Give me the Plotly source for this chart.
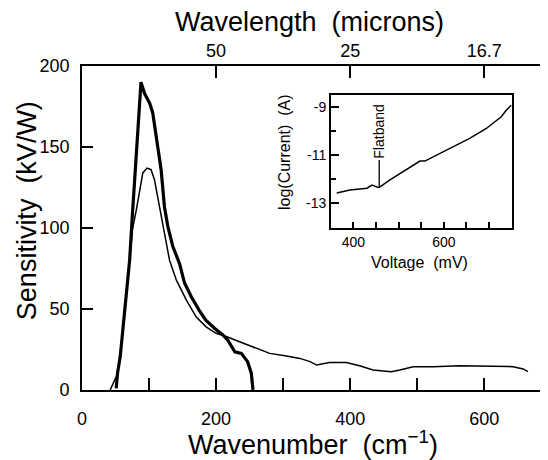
import plotly.graph_objects as go

# ---- main panel data (wavenumber cm^-1, sensitivity kV/W) ----
thick_wn = [51, 53, 57, 63.4, 71, 75.6, 82, 88, 93.3, 101, 105.5, 110.7, 118, 123, 128,
            135.5, 145.5, 153, 163, 175, 185, 198, 210, 217, 228, 237.6, 247, 252.5, 255]
thick_val = [1, 10.5, 20.6, 49, 80, 111, 150, 190, 183, 177, 171, 156, 136, 113, 101,
             88.5, 78, 66, 57.6, 49, 43, 38, 34, 31, 23.6, 22.6, 17.5, 10.4, 0]

thin_wn = [42, 46, 53, 57, 63.4, 71, 75.6, 81, 86, 90.7, 97, 103, 108, 113, 118, 123, 130.6,
           140.6, 155.5, 170.4, 185, 200, 215, 235, 260, 280, 305, 325, 340, 350, 369,
           394, 414, 434, 461, 474, 494, 524, 563, 603, 643, 658, 665]
thin_val = [0, 4, 10, 20, 48, 79, 100, 111, 123, 134, 137, 136, 130, 119, 107, 94.6, 80,
            68, 55.6, 45, 39, 35, 33, 29.8, 25.7, 22.6, 21, 19.5, 17.5, 15.4, 17,
            16.9, 15, 12.3, 11.3, 12.3, 14.4, 14.4, 15, 14.8, 14.4, 13, 11.3]

x_tickvals = [0, 200, 400, 600]
x_minorvals = [100, 300, 500]
top_tickvals = [200, 400, 600]
top_ticktext = ["50", "25", "16.7"]
y_tickvals = [0, 50, 100, 150, 200]

# ---- inset data (voltage mV, log current A) ----
iv_mv = [363, 392, 430, 441, 452, 457, 480, 510, 539, 547, 558, 584, 620, 657, 694, 727, 738, 749]
iv_log = [-12.58, -12.46, -12.38, -12.25, -12.33, -12.35, -12.04, -11.7, -11.35, -11.25,
          -11.25, -11.0, -10.63, -10.3, -9.89, -9.4, -9.13, -8.92]
flatband_mv = 457
flatband_log = -12.35
inset_xtickvals = [400, 600]
inset_xminorvals = [450, 500, 550, 650, 700]
inset_ytickvals = [-13, -11, -9]
inset_yticktext = ["-13", "-11", "-9"]
inset_yminorvals = [-12, -10]

FONT = "Liberation Sans, Arial, sans-serif"

fig = go.Figure()
fig.add_trace(go.Scatter(x=thin_wn, y=thin_val, mode="lines",
                         line=dict(color="black", width=1.5), showlegend=False))
fig.add_trace(go.Scatter(x=thick_wn, y=thick_val, mode="lines",
                         line=dict(color="black", width=3.2), showlegend=False))
fig.add_trace(go.Scatter(x=[], y=[], xaxis="x2", yaxis="y", showlegend=False))
fig.add_trace(go.Scatter(x=iv_mv, y=iv_log, mode="lines", xaxis="x3", yaxis="y3",
                         line=dict(color="black", width=1.5), showlegend=False))

axis_common = dict(showline=True, linecolor="black", linewidth=1.6, showgrid=False,
                   zeroline=False, ticks="inside", tickcolor="black", tickwidth=1.5,
                   automargin=False)

# the page body adds an 8 px offset, so the figure is 8 px smaller and margins shifted
fig.update_layout(
    width=540, height=452,
    margin=dict(l=74, r=0, t=58, b=70),
    paper_bgcolor="white", plot_bgcolor="white",
    font=dict(family=FONT, color="black"),
    xaxis=dict(range=[0, 695], domain=[0, 1], anchor="y", tickvals=x_tickvals,
               ticklen=12, tickfont=dict(size=18), ticklabelstandoff=12,
               minor=dict(tickvals=x_minorvals, ticks="inside", ticklen=12,
                          tickwidth=1.5, tickcolor="black", showgrid=False),
               **axis_common),
    xaxis2=dict(range=[0, 695], overlaying="x", side="top", anchor="y",
                tickvals=top_tickvals, ticktext=top_ticktext, ticklen=12,
                tickfont=dict(size=18), ticklabelstandoff=0, **axis_common),
    yaxis=dict(range=[0, 200], domain=[0, 1], anchor="x", tickvals=y_tickvals,
               ticklen=11, tickfont=dict(size=18), ticklabelstandoff=7, **axis_common),
    xaxis3=dict(range=[350, 751], domain=[0.534, 0.923], anchor="y3",
                tickvals=inset_xtickvals, ticklen=6, tickfont=dict(size=14),
                minor=dict(tickvals=inset_xminorvals, ticks="inside", ticklen=6,
                           tickwidth=1.5, tickcolor="black", showgrid=False),
                mirror=True, **axis_common),
    yaxis3=dict(range=[-14.04, -8.5], domain=[0.5, 0.91], anchor="x3",
                tickvals=inset_ytickvals, ticktext=inset_yticktext, ticklen=8,
                tickfont=dict(size=14),
                minor=dict(tickvals=inset_yminorvals, ticks="inside", ticklen=5,
                           tickwidth=1.5, tickcolor="black", showgrid=False),
                mirror=True, **axis_common),
)

annotations = [
    dict(text="Wavelength  (microns)", xref="paper", yref="paper", x=0.489, y=1.136,
         showarrow=False, font=dict(size=27), xanchor="center", yanchor="middle"),
    dict(text="Wavenumber  (cm<sup>−1</sup>)", xref="paper", yref="paper", x=0.496, y=-0.164,
         showarrow=False, font=dict(size=27), xanchor="center", yanchor="middle"),
    dict(text="Sensitivity  (kV/W)", xref="paper", yref="paper", x=-0.118, y=0.552,
         showarrow=False, font=dict(size=27), textangle=-90, xanchor="center", yanchor="middle"),
    dict(text="log(Current)  (A)", xref="paper", yref="paper", x=0.436, y=0.735,
         showarrow=False, font=dict(size=16), textangle=-90, xanchor="center", yanchor="middle"),
    dict(text="Voltage  (mV)", xref="paper", yref="paper", x=0.725, y=0.395,
         showarrow=False, font=dict(size=16), xanchor="center", yanchor="middle"),
    dict(text="Flatband", xref="x3", yref="y3", x=flatband_mv, y=flatband_log,
         showarrow=True, arrowhead=0, arrowwidth=1.3, arrowcolor="black", ax=0, ay=-56,
         standoff=0, font=dict(size=14), textangle=-90),
]
fig.update_layout(annotations=annotations)

fig.write_html("out.html")
